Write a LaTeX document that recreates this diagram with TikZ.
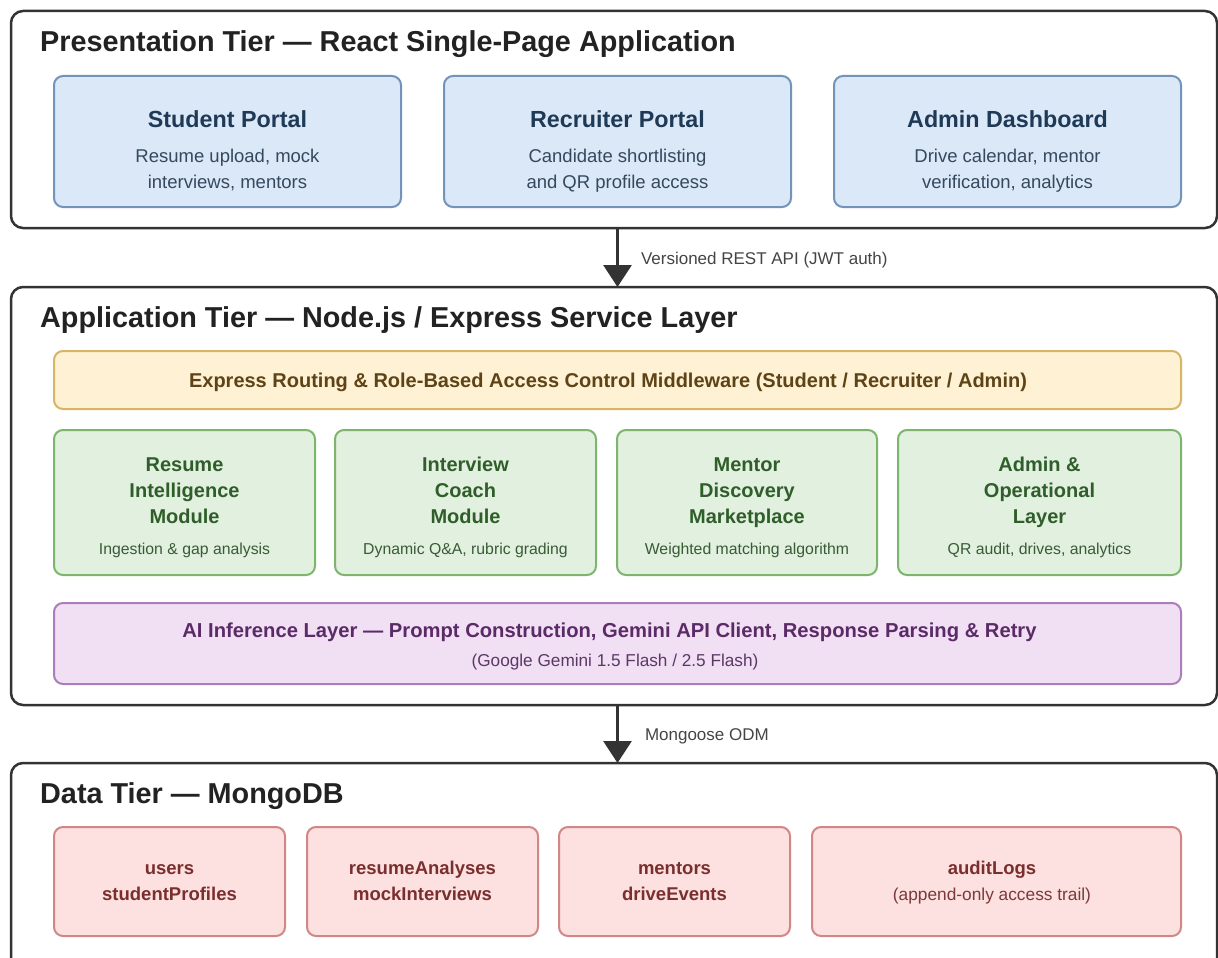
\documentclass[tikz,border=0pt]{standalone}
\usepackage{fontspec}
\setmainfont{Liberation Sans}
\usetikzlibrary{arrows.meta}

\definecolor{tierline}{HTML}{333333}
\definecolor{tiertext}{HTML}{222222}
\definecolor{bluefill}{HTML}{DBE8F7}
\definecolor{blueline}{HTML}{7393B8}
\definecolor{bluehead}{HTML}{1F3A57}
\definecolor{bluetext}{HTML}{34495E}
\definecolor{orangefill}{HTML}{FFF1D3}
\definecolor{orangeline}{HTML}{D7B566}
\definecolor{orangetext}{HTML}{5E4316}
\definecolor{greenfill}{HTML}{E1F0DF}
\definecolor{greenline}{HTML}{7DB56F}
\definecolor{greenhead}{HTML}{2F5E2A}
\definecolor{greentext}{HTML}{3A5B36}
\definecolor{purplefill}{HTML}{F1DFF4}
\definecolor{purpleline}{HTML}{AC7DBB}
\definecolor{purplehead}{HTML}{5B2B68}
\definecolor{purpletext}{HTML}{5B3866}
\definecolor{redfill}{HTML}{FDE0E0}
\definecolor{redline}{HTML}{D08786}
\definecolor{redhead}{HTML}{7A2E2E}
\definecolor{redtext}{HTML}{7A3A3A}
\definecolor{labeltext}{HTML}{444444}

\newcommand\fsz[1]{\fontsize{#1}{26}\selectfont}

\begin{document}
\begin{tikzpicture}[x=1pt,y=-1pt,
  tier/.style={draw=tierline, line width=2.5pt, rounded corners=12pt, fill=white,
    inner sep=0pt, outer sep=0pt},
  box/.style={line width=2pt, rounded corners=9pt, inner sep=0pt, outer sep=0pt},
  bluebox/.style={box, draw=blueline, fill=bluefill, minimum width=347pt, minimum height=131pt},
  orangebox/.style={box, draw=orangeline, fill=orangefill},
  greenbox/.style={box, draw=greenline, fill=greenfill, minimum height=145pt},
  purplebox/.style={box, draw=purpleline, fill=purplefill},
  redbox/.style={box, draw=redline, fill=redfill, minimum height=109pt},
  txt/.style={inner sep=0pt, outer sep=0pt, anchor=base, align=center},
  tiertitle/.style={inner sep=0pt, anchor=base west, text=tiertext, font=\bfseries\fsz{28.8}},
  bluehd/.style={txt, text=bluehead, font=\bfseries\fsz{23.3}},
  bluesub/.style={txt, text=bluetext, font=\fsz{18.5}},
  orangehd/.style={txt, text=orangetext, font=\bfseries\fsz{20}},
  greenhd/.style={txt, text=greenhead, font=\bfseries\fsz{20}},
  greensub/.style={txt, text=greentext, font=\fsz{15.8}},
  purplehd/.style={txt, text=purplehead, font=\bfseries\fsz{20.2}},
  purplesub/.style={txt, text=purpletext, font=\fsz{17.2}},
  redhd/.style={txt, text=redhead, font=\bfseries\fsz{18.5}},
  redsub/.style={txt, text=redtext, font=\fsz{17.3}},
  flow/.style={draw=tierline, line width=3pt, -{Triangle[width=28pt,length=22pt]}},
  flowlabel/.style={inner sep=0pt, anchor=west, text=labeltext, font=\fsz{17}},
]
\useasboundingbox (0,0) rectangle (1218,958);

% ---------- tier frames ----------
\node[tier, minimum width=1206pt, minimum height=217pt] (tier1) at (614,119.5) {};
\node[tier, minimum width=1206pt, minimum height=418pt] (tier2) at (614,496) {};
\node[tier, minimum width=1206pt, minimum height=230pt] (tier3) at (614,878) {};

\node[tiertitle] (t1title) at (40,52) {Presentation Tier — React Single-Page Application};
\node[tiertitle] (t2title) at (40,327) {Application Tier — Node.js / Express Service Layer};
\node[tiertitle] (t3title) at (40,803) {Data Tier — MongoDB};

% ---------- presentation tier ----------
\node[bluebox] (sp) at (227.5,141.5) {};
\node[bluebox] (rp) at (617.5,141.5) {};
\node[bluebox] (ad) at (1007.5,141.5) {};

% multi-line texts are placed by the baseline of their last line
\node[bluehd] (sph) at (227.5,127) {Student Portal};
\node[bluesub] (sps) at (227.5,188) {Resume upload, mock\\interviews, mentors};
\node[bluehd] (rph) at (617.5,127) {Recruiter Portal};
\node[bluesub] (rps) at (617.5,188) {Candidate shortlisting\\and QR profile access};
\node[bluehd] (adh) at (1007.5,127) {Admin Dashboard};
\node[bluesub] (ads) at (1007.5,188) {Drive calendar, mentor\\verification, analytics};

% ---------- application tier ----------
\node[orangebox, minimum width=1127pt, minimum height=58pt] (mw) at (617.5,380) {};
\node[orangehd] (mwt) at (608,387)
  {Express Routing \& Role-Based Access Control Middleware (Student / Recruiter / Admin)};

\node[greenbox, minimum width=261pt] (rim) at (184.5,502.5) {};
\node[greenbox, minimum width=261pt] (icm) at (465.5,502.5) {};
\node[greenbox, minimum width=260pt] (mdm) at (747,502.5) {};
\node[greenbox, minimum width=283pt] (aol) at (1039.5,502.5) {};

\node[greenhd] (rimh) at (184.5,523) {Resume\\Intelligence\\Module};
\node[greensub] (rims) at (184.5,554) {Ingestion \& gap analysis};
\node[greenhd] (icmh) at (465.5,523) {Interview\\Coach\\Module};
\node[greensub] (icms) at (465.5,554) {Dynamic Q\&A, rubric grading};
\node[greenhd] (mdmh) at (747,523) {Mentor\\Discovery\\Marketplace};
\node[greensub] (mdms) at (747,554) {Weighted matching algorithm};
\node[greenhd] (aolh) at (1039.5,523) {Admin \&\\Operational\\Layer};
\node[greensub] (aols) at (1039.5,554) {QR audit, drives, analytics};

\node[purplebox, minimum width=1127pt, minimum height=81pt] (ai) at (617.5,643.5) {};
\node[purplehd] (aih) at (609.5,637)
  {AI Inference Layer — Prompt Construction, Gemini API Client, Response Parsing \& Retry};
\node[purplesub] (ais) at (615,666) {(Google Gemini 1.5 Flash / 2.5 Flash)};

% ---------- data tier ----------
\node[redbox, minimum width=231pt] (c1) at (169.5,881.5) {};
\node[redbox, minimum width=231pt] (c2) at (422.5,881.5) {};
\node[redbox, minimum width=231pt] (c3) at (674.5,881.5) {};
\node[redbox, minimum width=369pt] (c4) at (996.5,881.5) {};

\node[redhd] (c1t) at (169.5,900) {users\\studentProfiles};
\node[redhd] (c2t) at (422.5,900) {resumeAnalyses\\mockInterviews};
\node[redhd] (c3t) at (674.5,900) {mentors\\driveEvents};
\node[redhd] (c4t) at (992,874) {auditLogs};
\node[redsub] (c4s) at (992,900) {(append-only access trail)};

% ---------- tier-to-tier flows ----------
\draw[flow] (rp |- tier1.south) -- node[flowlabel, xshift=22pt, yshift=-2.5pt] {Versioned REST API (JWT auth)} (rp |- tier2.north);
\draw[flow] (rp |- tier2.south) -- node[flowlabel, xshift=26pt, yshift=-2.5pt] {Mongoose ODM} (rp |- tier3.north);
\end{tikzpicture}
\end{document}
